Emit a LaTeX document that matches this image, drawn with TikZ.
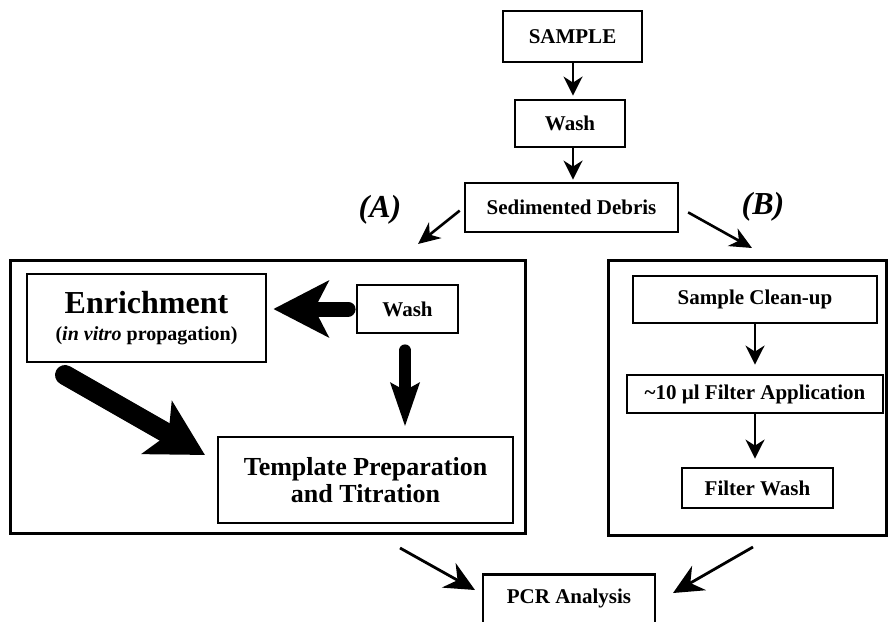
\documentclass[tikz,border=0pt]{standalone}
\usepackage{fontspec}
\setmainfont{Liberation Serif}
\usetikzlibrary{arrows.meta,calc}
\begin{document}
\begin{tikzpicture}[x=1pt,y=-1pt,
  box/.style={draw,line width=2.8pt,inner sep=0pt,align=center,font=\bfseries\fontsize{21}{24}\selectfont},
  frame/.style={draw,line width=3pt,inner sep=0pt},
  thinarrow/.style={line width=2.6pt,-{Stealth[length=19pt,width=19pt,inset=6pt]}},
  midarrow/.style={line width=2.6pt,-{Stealth[length=22pt,width=20pt,inset=7pt]}},
  bigarrow/.style={line width=2.8pt,-{Stealth[length=30pt,width=28pt,inset=10pt]}},
  lbl/.style={font=\bfseries\itshape\fontsize{32}{36}\selectfont}]
\useasboundingbox (0,0) rectangle (890,621);
\fill[white] (0,0) rectangle (890,621);
% top chain
\node[box,minimum width=139,minimum height=51] (sample) at (572.5,36.5) {SAMPLE};
\node[box,minimum width=110,minimum height=47] (wash1) at (570,123.5) {Wash};
\node[box,minimum width=213,minimum height=49] (sed) at (571.5,207.5) {Sedimented Debris};
\coordinate (c1) at (573,0);
\draw[thinarrow] (c1 |- sample.south) -- ([yshift=3pt]c1 |- wash1.north);
\draw[thinarrow] (c1 |- wash1.south) -- ([yshift=2pt]c1 |- sed.north);
% labels
\node[lbl] (lA) at (380,210) {(A)};
\node[lbl] (lB) at (763,207) {(B)};
% frames
\node[frame,minimum width=515,minimum height=273] (boxA) at (267.5,396.5) {};
\node[frame,minimum width=278,minimum height=275] (boxB) at (747,397.5) {};
\coordinate (aTip) at (418,244);
\coordinate (bTip) at (752,248);
\draw[midarrow,shorten <=5pt] (sed.west) -- (aTip);
\draw[midarrow,shorten <=10pt] (sed.east) -- (bTip);
% panel A
\node[box,minimum width=239,minimum height=88] (enrich) at (146.5,318)
  {{\fontsize{32}{32}\selectfont Enrichment}\\[3pt]{\fontsize{20}{24}\selectfont(\textit{in vitro} propagation)}};
\node[box,minimum width=101,minimum height=48] (wash2) at (407.5,309) {Wash};
\node[box,minimum width=295,minimum height=86,font=\bfseries\fontsize{26}{27}\selectfont] (templ) at (365.5,480)
  {Template Preparation\\and Titration};
\draw[line width=15pt,line cap=round,shorten <=7.5pt,shorten >=6pt,-{Stealth[length=55pt,width=56pt,inset=14pt]}]
  (wash2.west) -- (wash2.west -| enrich.east);
\coordinate (c2) at (405,0);
\draw[line width=12pt,line cap=round,shorten <=16pt,shorten >=9pt,-{Stealth[length=43pt,width=28pt,inset=7pt]}]
  (c2 |- wash2.south) -- (c2 |- templ.north);
\coordinate (eS) at (65,375);
\coordinate (tW) at (205,455);
\draw[line width=20pt,line cap=round,-{Stealth[length=55pt,width=60pt,inset=13pt]}] (eS) -- (tW);
% panel B
\node[box,minimum width=244,minimum height=47] (clean) at (755,299.5) {Sample Clean-up};
\node[box,minimum width=256,minimum height=38] (fapp) at (755,394) {\textasciitilde10 µl Filter Application};
\node[box,minimum width=151,minimum height=40] (fwash) at (757.5,488) {Filter Wash};
\coordinate (c3) at (755,0);
\draw[thinarrow] (c3 |- clean.south) -- ([yshift=9pt]c3 |- fapp.north);
\draw[thinarrow] (c3 |- fapp.south) -- ([yshift=8pt]c3 |- fwash.north);
% PCR
\node[box,minimum width=172,inner ysep=8pt,text height=21pt,text depth=25pt,anchor=north] (pcr) at (569,573) {PCR Analysis};
\coordinate (pA) at (400,548);
\coordinate (pAt) at (475,590);
\coordinate (pB) at (753,547);
\coordinate (pBt) at (673,593);
\draw[bigarrow] (pA) -- (pAt);
\draw[bigarrow] (pB) -- (pBt);
\end{tikzpicture}
\end{document}
